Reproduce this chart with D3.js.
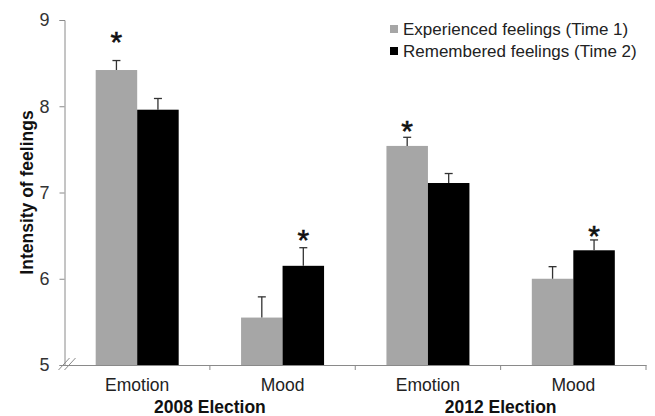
<!DOCTYPE html>
<html>
<head>
<meta charset="utf-8">
<script src="https://cdn.jsdelivr.net/npm/d3@7"></script>
<style>
  body { margin: 0; background: #fff; }
  svg { display: block; font-family: "Liberation Sans", Arial, sans-serif; }
</style>
</head>
<body>
<div class="chart"></div>
<script>
// chart data
const categories = ["Emotion", "Mood", "Emotion", "Mood"];
const groups = ["2008 Election", "2012 Election"];
const seriesNames = ["Experienced feelings (Time 1)", "Remembered feelings (Time 2)"];
const time1 = [8.42, 5.55, 7.54, 6.00];
const time2 = [7.96, 6.15, 7.11, 6.33];
const err1 = [0.11, 0.24, 0.10, 0.14];
const err2 = [0.13, 0.21, 0.11, 0.12];
// significance stars: [category index, series index, level]
const stars = [[0, 0, 8.83], [1, 1, 6.53], [2, 0, 7.79], [3, 1, 6.58]];
const yTicks = [5, 6, 7, 8, 9];

const width = 655, height = 416;
const margin = { left: 64.5, right: 9, top: 20, bottom: 51 };
const colors = ["#a6a6a6", "#000000"];
const axisColor = "#8a8a8a";

const svg = d3.select(".chart").append("svg")
  .attr("width", width)
  .attr("height", height);

const x = d3.scaleBand()
  .domain(d3.range(categories.length))
  .range([margin.left, width - margin.right]);

const barW = 41.5;
const xSub = d3.scaleBand()
  .domain([0, 1])
  .range([x.bandwidth() / 2 - barW, x.bandwidth() / 2 + barW]);

const y = d3.scaleLinear()
  .domain([5, 9])
  .range([height - margin.bottom, margin.top]);

// bars
const rows = categories.map((c, i) => [
  { i, s: 0, v: time1[i], e: err1[i] },
  { i, s: 1, v: time2[i], e: err2[i] }
]).flat();

const bars = svg.append("g");
bars.selectAll("rect")
  .data(rows)
  .join("rect")
  .attr("x", d => x(d.i) + xSub(d.s))
  .attr("width", xSub.bandwidth())
  .attr("y", d => y(d.v))
  .attr("height", d => y(5) - y(d.v))
  .attr("fill", d => colors[d.s]);

// error bars (upper only)
const eb = svg.append("g").attr("stroke", "#333").attr("stroke-width", 1.3);
rows.forEach(d => {
  const cx = x(d.i) + xSub(d.s) + xSub.bandwidth() / 2;
  eb.append("line")
    .attr("x1", cx).attr("x2", cx)
    .attr("y1", y(d.v)).attr("y2", y(d.v + d.e));
  eb.append("line")
    .attr("x1", cx - 4).attr("x2", cx + 4)
    .attr("y1", y(d.v + d.e)).attr("y2", y(d.v + d.e));
});

// stars
svg.append("g").selectAll("text")
  .data(stars)
  .join("text")
  .attr("x", d => x(d[0]) + xSub(d[1]) + xSub.bandwidth() / 2)
  .attr("y", d => y(d[2]) + 17)
  .attr("text-anchor", "middle")
  .style("font-size", "30px")
  .attr("fill", "#111")
  .attr("stroke", "#111")
  .attr("stroke-width", 0.6)
  .text("*");

// y axis
const yAxis = svg.append("g")
  .attr("transform", `translate(${margin.left},0)`)
  .call(d3.axisLeft(y).tickValues(yTicks).tickSize(5).tickPadding(10).tickFormat(d3.format("d")));
yAxis.select(".domain").attr("stroke", axisColor);
yAxis.selectAll(".tick line").attr("stroke", axisColor);
yAxis.selectAll(".tick text")
  .style("font-size", "18px")
  .attr("fill", "#333")
  .attr("font-family", null);

// x axis
const xAxis = svg.append("g")
  .attr("transform", `translate(0,${y(5)})`)
  .call(d3.axisBottom(x).tickSize(0).tickPadding(14).tickFormat(i => categories[i]));
xAxis.select(".domain").attr("stroke", axisColor);
xAxis.selectAll(".tick text")
  .style("font-size", "17.5px")
  .attr("fill", "#222")
  .attr("font-family", null);

// band separator ticks
svg.append("g").selectAll("line")
  .data(d3.range(1, categories.length + 1))
  .join("line")
  .attr("x1", i => x(i - 1) + x.step())
  .attr("x2", i => x(i - 1) + x.step())
  .attr("y1", y(5))
  .attr("y2", y(5) + 5)
  .attr("stroke", axisColor);

// group labels
svg.append("g").selectAll("text")
  .data(groups)
  .join("text")
  .attr("x", (g, j) => x(j * 2) + x.step())
  .attr("y", y(5) + 48)
  .attr("text-anchor", "middle")
  .style("font-size", "17.5px")
  .style("font-weight", "bold")
  .attr("fill", "#111")
  .text(g => g);

// axis break marks
const brk = svg.append("g").attr("stroke", axisColor).attr("stroke-width", 1);
[0, 6].forEach(dx => {
  brk.append("line")
    .attr("x1", margin.left - 6 + dx).attr("y1", y(5) + 5)
    .attr("x2", margin.left + 5 + dx).attr("y2", y(5) - 7);
});

// y label
svg.append("text")
  .attr("transform", `translate(27,${(y(5) + y(9)) / 2}) rotate(-90)`)
  .attr("text-anchor", "middle")
  .attr("dominant-baseline", "central")
  .style("font-size", "17.5px")
  .style("font-weight", "bold")
  .attr("fill", "#111")
  .text("Intensity of feelings");

// legend
const legend = svg.append("g").attr("transform", "translate(390,29)");
seriesNames.forEach((name, k) => {
  const g = legend.append("g").attr("transform", `translate(0,${k * 22})`);
  g.append("rect")
    .attr("x", 0).attr("y", -4)
    .attr("width", 8).attr("height", 8)
    .attr("fill", colors[k]);
  g.append("text")
    .attr("x", 13).attr("y", 0)
    .attr("dominant-baseline", "central")
    .style("font-size", "17px")
    .attr("fill", "#222")
    .text(name);
});
</script>
</body>
</html>
